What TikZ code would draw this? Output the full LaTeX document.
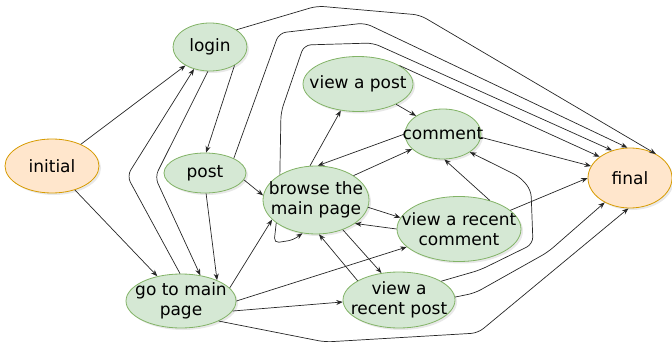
\documentclass[tikz,border=0pt]{standalone}
\usepackage{fontspec}
\setmainfont{DejaVu Sans}
\usetikzlibrary{shapes.geometric,arrows.meta,shadows}
\definecolor{gfill}{HTML}{D5E8D4}
\definecolor{gdraw}{HTML}{82B366}
\definecolor{ofill}{HTML}{FFE6CC}
\definecolor{odraw}{HTML}{D79B00}
\begin{document}
\begin{tikzpicture}[x=1pt,y=-1pt,
  state/.style={ellipse, draw=gdraw, fill=gfill, line width=0.8pt, inner sep=0pt,
    drop shadow={opacity=0.18, shadow xshift=2pt, shadow yshift=-2pt}},
  endstate/.style={state, draw=odraw, fill=ofill},
  txt/.style={align=center, font=\fontsize{17}{20}\selectfont, inner sep=0pt},
  edge/.style={draw=black!85, line width=0.7pt, rounded corners=7pt,
    -{Stealth[length=6.5pt,width=5pt]}}
]
\useasboundingbox (0,0) rectangle (672,345);

\node[endstate, minimum width=94pt, minimum height=54pt, label={[txt]center:initial}] (I) at (52,166) {};
\node[state, minimum width=74pt, minimum height=48pt, label={[txt]center:login}] (L) at (210,47) {};
\node[state, minimum width=82pt, minimum height=40pt, label={[txt]center:post}] (P) at (205,173) {};
\node[state, minimum width=110pt, minimum height=54pt, label={[txt]center:{go to main\\page}}] (G) at (181,301) {};
\node[state, minimum width=106pt, minimum height=68pt, label={[txt]center:{browse the\\main page}}] (B) at (316,200) {};
\node[state, minimum width=110pt, minimum height=55pt, label={[txt]center:view a post}] (V) at (358,84) {};
\node[state, minimum width=76pt, minimum height=50pt, label={[txt]center:comment}] (C) at (443,134) {};
\node[state, minimum width=124pt, minimum height=65pt, label={[txt]center:{view a recent\\comment}}] (R) at (459,229) {};
\node[state, minimum width=112pt, minimum height=56pt, label={[txt]center:{view a\\recent post}}] (Q) at (399,300) {};
\node[endstate, minimum width=84pt, minimum height=60pt, label={[txt]center:final}] (F) at (630,178) {};

\draw[edge] (I) -- (L);
\draw[edge] (I) -- (G);
\draw[edge] (L.-37) -- (P.87);
\draw[edge] (G.92) -- (127,176) -- (L.-126);
\draw[edge] (L.-95) -- (155,177) -- (G.53);
\draw[edge] (P.-87) -- (G.30);
\draw[edge] (P.-10) -- (B.175);
\draw[edge] (P.27) -- (279,33) -- (365,23) -- (F.95);
\draw[edge] (L.33) -- (317,6) -- (420,15) -- (F.43);
\draw[edge] (B.145) -- (281,112) -- (304,45) -- (373,43) -- (F.123);
\draw[edge] (V.24) -- (F.145);
\draw[edge] (C.-5) -- (F.163);
\draw[edge] (R.20) -- (F.180);
\draw[edge] (Q.3) -- (475,293) -- (548,252) -- (F.-136);
\draw[edge] (G.-28) -- (325,342) -- (478,333) -- (F.-93);
\draw[edge] (V.-28) -- (C.146);
\draw[edge] (B.100) -- (V.-123);
\draw[edge] (C.180) -- (B.87);
\draw[edge] (B.33) -- (C.-154);
\draw[edge] (B.-8) -- (R.169);
\draw[edge] (R.180) -- (B.-31);
\draw[edge, rounded corners=5pt] (B.-150) -- (274,243) -- (293,240) -- (B.-112);
\draw[edge] (G.15) -- (B.-156);
\draw[edge] (Q.155) -- (B.-85);
\draw[edge] (B.-48) -- (Q.123);
\draw[edge] (G.0) -- (R.-161);
\draw[edge] (G.-11) -- (Q.-178);
\draw[edge] (R.43) -- (C.-87);
\draw[edge] (Q.24) -- (480,270) -- (533,244) -- (531,190) -- (520,177) -- (C.-34);
\end{tikzpicture}
\end{document}
